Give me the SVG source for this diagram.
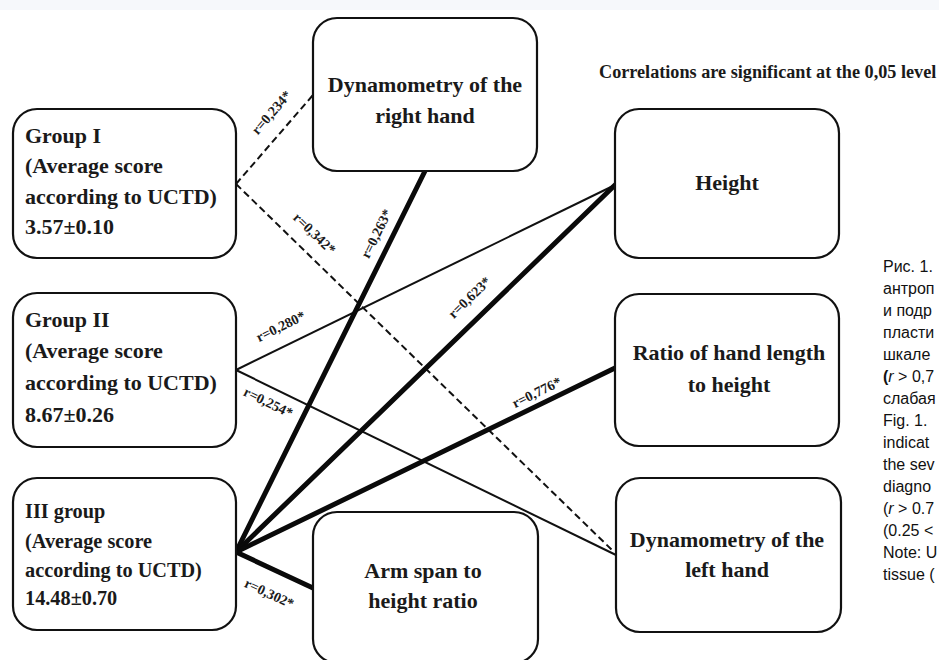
<svg xmlns="http://www.w3.org/2000/svg" width="939" height="660" viewBox="0 0 939 660">
  <style>
    .box { fill: #ffffff; stroke: #111111; stroke-width: 2.2; }
    .lbl { font-family: "Liberation Serif", "Times New Roman", serif; font-weight: bold; fill: #1a1a1a; }
    .grp { font-size: 22px; }
    .grp3 { font-size: 20.3px; }
    .ctr { font-size: 22px; text-anchor: middle; }
    .r { font-family: "Liberation Serif", "Times New Roman", serif; font-weight: bold; font-size: 14px; fill: #1a1a1a; text-anchor: middle; }
    .thin { stroke: #111111; stroke-width: 2; fill: none; }
    .thick { stroke: #0a0a0a; stroke-width: 5; fill: none; stroke-linecap: round; }
    .dash { stroke: #111111; stroke-width: 2; fill: none; stroke-dasharray: 7 4; }
    .cap { font-family: "Liberation Sans", Arial, sans-serif; font-size: 16px; fill: #111111; }
  </style>

  <rect x="0" y="0" width="939" height="660" fill="#ffffff"/>
  <rect x="0" y="0" width="939" height="10" fill="#f6f8fb"/>

  <!-- connectors -->
  <g id="connectors">
    <line class="dash" x1="236" y1="184" x2="313" y2="95"/>
    <line class="dash" x1="236" y1="184" x2="613" y2="551"/>
    <line class="thin" x1="236" y1="370" x2="615" y2="185"/>
    <line class="thin" x1="236" y1="370" x2="616" y2="555"/>
    <line class="thick" x1="236" y1="552" x2="425" y2="171"/>
    <line class="thick" x1="236" y1="552" x2="615" y2="185"/>
    <line class="thick" x1="236" y1="552" x2="615" y2="368"/>
    <line class="thick" x1="236" y1="552" x2="313" y2="588"/>

    <text class="r" transform="translate(272,113) rotate(-49)" y="4">r=0,234*</text>
    <text class="r" transform="translate(314,234) rotate(44)" y="4">r=0,342*</text>
    <text class="r" transform="translate(377,234) rotate(-63.6)" y="4">r=0,263*</text>
    <text class="r" transform="translate(281,327) rotate(-26)" y="4">r=0,280*</text>
    <text class="r" transform="translate(268,403) rotate(26)" y="4">r=0,254*</text>
    <text class="r" transform="translate(470,298) rotate(-44)" y="4">r=0,623*</text>
    <text class="r" transform="translate(537,393) rotate(-26)" y="4">r=0,776*</text>
    <text class="r" transform="translate(269,594) rotate(25)" y="4">r=0,302*</text>
  </g>

  <!-- group nodes -->
  <g id="group1">
    <rect class="box" x="13" y="109" width="223" height="149" rx="24"/>
    <text class="lbl grp" x="25" y="143">Group I</text>
    <text class="lbl grp" x="25" y="173">(Average score</text>
    <text class="lbl grp" x="25" y="204">according to UCTD)</text>
    <text class="lbl grp" x="25" y="234">3.57±0.10</text>
  </g>

  <g id="group2">
    <rect class="box" x="13" y="293" width="223" height="154" rx="24"/>
    <text class="lbl grp" x="25" y="327">Group II</text>
    <text class="lbl grp" x="25" y="358">(Average score</text>
    <text class="lbl grp" x="25" y="390">according to UCTD)</text>
    <text class="lbl grp" x="25" y="422">8.67±0.26</text>
  </g>

  <g id="group3">
    <rect class="box" x="13" y="478" width="223" height="152" rx="24"/>
    <text class="lbl grp3" x="25" y="518">III group</text>
    <text class="lbl grp3" x="25" y="548">(Average score</text>
    <text class="lbl grp3" x="25" y="577">according to UCTD)</text>
    <text class="lbl grp3" x="25" y="605">14.48±0.70</text>
  </g>

  <!-- indicator nodes -->
  <g id="dyn-right">
    <rect class="box" x="313" y="18" width="224" height="153" rx="24"/>
    <text class="lbl ctr" x="425" y="92">Dynamometry of the</text>
    <text class="lbl ctr" x="425" y="123">right hand</text>
  </g>

  <g id="height">
    <rect class="box" x="615" y="109" width="224" height="149" rx="24"/>
    <text class="lbl ctr" x="727" y="190">Height</text>
  </g>

  <g id="hand-ratio">
    <rect class="box" x="615" y="294" width="224" height="152" rx="24"/>
    <text class="lbl ctr" x="729" y="360">Ratio of hand length</text>
    <text class="lbl ctr" x="729" y="392">to height</text>
  </g>

  <g id="dyn-left">
    <rect class="box" x="616" y="478" width="225" height="154" rx="24"/>
    <text class="lbl ctr" x="727" y="547">Dynamometry of the</text>
    <text class="lbl ctr" x="727" y="577">left hand</text>
  </g>

  <g id="arm-span">
    <rect class="box" x="313" y="512" width="225" height="151" rx="24"/>
    <text class="lbl ctr" x="423" y="578">Arm span to</text>
    <text class="lbl ctr" x="423" y="608">height ratio</text>
  </g>

  <!-- heading and side caption -->
  <text class="lbl" x="599" y="78" font-size="18.2">Correlations are significant at the 0,05 level</text>

  <g id="caption" class="cap">
    <text x="883" y="272">Рис. 1.</text>
    <text x="883" y="294">антроп</text>
    <text x="883" y="316">и подр</text>
    <text x="883" y="338">пласти</text>
    <text x="883" y="360">шкале</text>
    <text x="883" y="382"><tspan font-weight="bold">(</tspan><tspan font-style="italic">r</tspan> &gt; 0,7</text>
    <text x="883" y="404">слабая</text>
    <text x="883" y="426">Fig. 1.</text>
    <text x="883" y="448">indicat</text>
    <text x="883" y="470">the sev</text>
    <text x="883" y="492">diagno</text>
    <text x="883" y="514">(<tspan font-style="italic">r</tspan> &gt; 0.7</text>
    <text x="883" y="536">(0.25 &lt;</text>
    <text x="883" y="558">Note: U</text>
    <text x="883" y="580">tissue (</text>
  </g>
</svg>
